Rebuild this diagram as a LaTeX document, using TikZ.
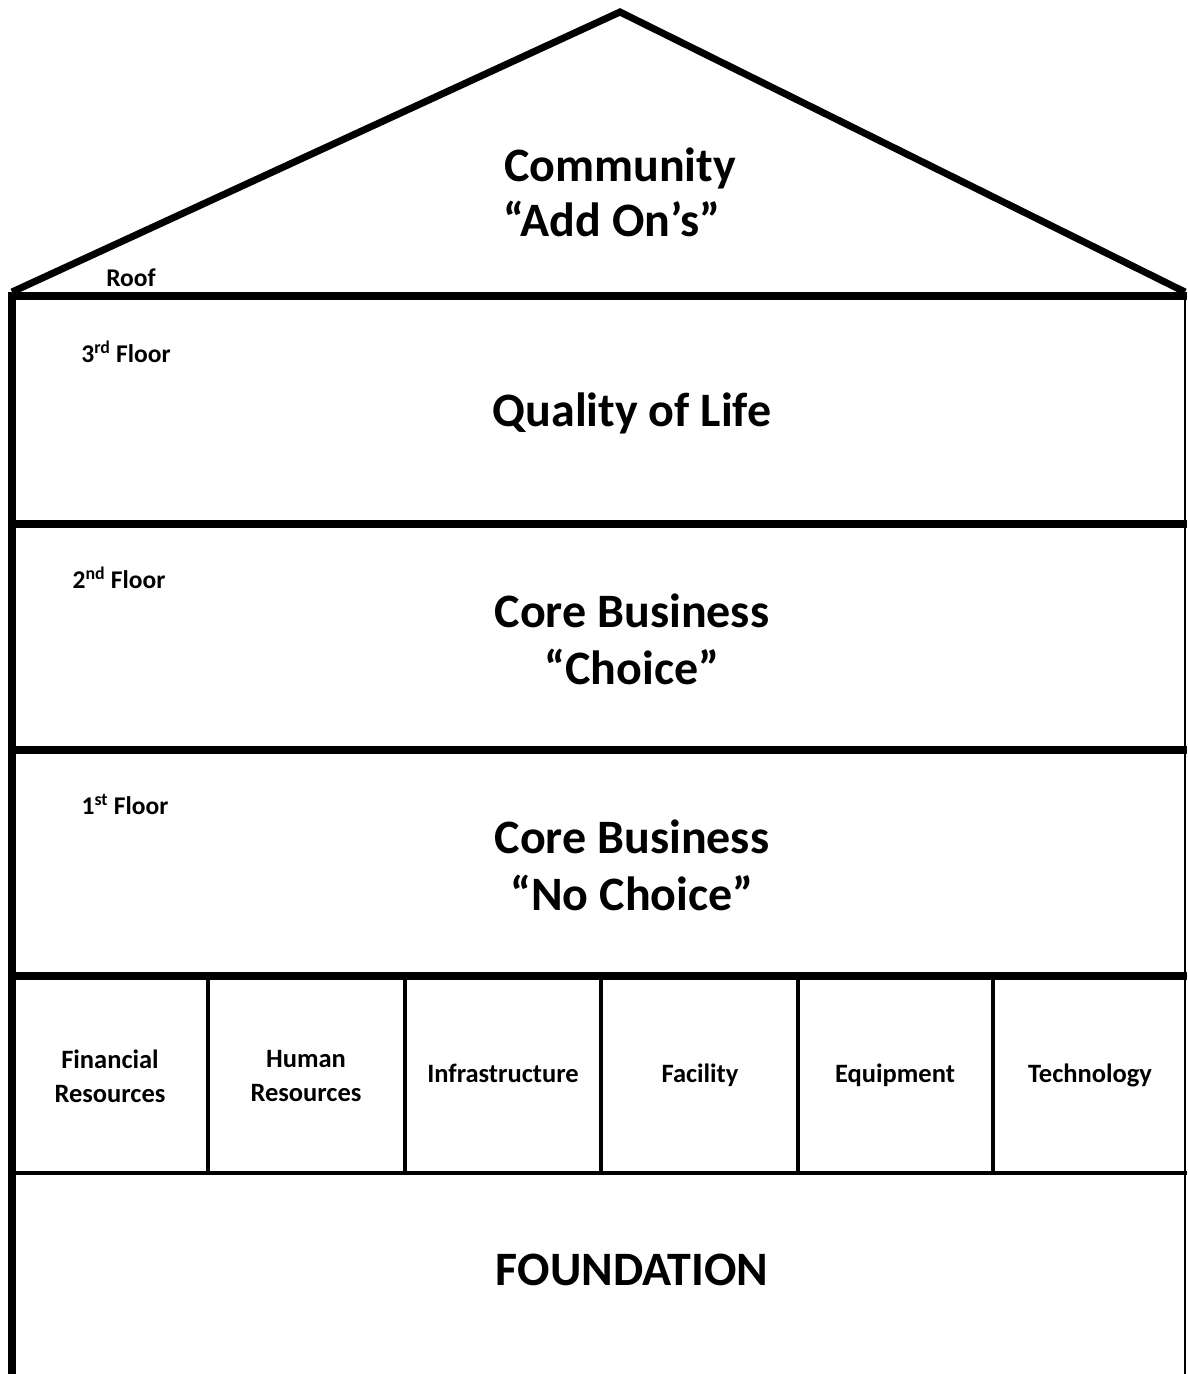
\documentclass[tikz,border=0pt]{standalone}
\usepackage{fontspec}
\setmainfont{Carlito}
\begin{document}
\begin{tikzpicture}[x=1pt,y=-1pt,
  big/.style={font=\fontsize{48}{57}\selectfont\bfseries, align=center, inner sep=0pt},
  small/.style={font=\fontsize{25.5}{30}\selectfont\bfseries, inner sep=0pt},
  col/.style={font=\fontsize{26.5}{34}\selectfont\bfseries, align=center, inner sep=0pt},
  colone/.style={font=\fontsize{26.5}{34}\selectfont\bfseries, inner sep=0pt, text height=18pt, text depth=6pt},
  thick line/.style={line width=8pt},
  roof line/.style={line width=7pt, line join=miter},
  thin line/.style={line width=4pt}]
\useasboundingbox (0,0) rectangle (1187,1374);
% roof
\draw[roof line] (12,292) -- (620,12) -- (1185,292);
% top of house
\draw[thick line] (8,296) -- (1187,296);
% left wall
\draw[thick line] (12,292) -- (12,1374);
% right wall
\draw[line width=2pt] (1185,292) -- (1185,1374);
% floors
\draw[thick line] (12,524) -- (1187,524);
\draw[thick line] (12,750) -- (1187,750);
\draw[thick line] (12,976) -- (1187,976);
\draw[thin line] (12,1173) -- (1187,1173);
% columns
\foreach \x in {208,405,601,798,993}
  \draw[thin line] (\x,976) -- (\x,1173);
% texts
\node[big, font=\fontsize{48}{55}\selectfont\bfseries] (community) at (620,192) {Community\\\hspace*{-16pt}“Add On’s”};
\node[big] (qol) at (632,413) {Quality of Life};
\node[big] (choice) at (632,639) {Core Business\\“Choice”};
\node[big] (nochoice) at (632,865) {Core Business\\“No Choice”};
\node[big] (found) at (632,1270) {FOUNDATION};
\node[small] (roof) at (131,278) {Roof};
\node[small] (f3) at (126,352) {3\textsuperscript{rd} Floor};
\node[small] (f2) at (119,578) {2\textsuperscript{nd} Floor};
\node[small] (f1) at (125,804) {1\textsuperscript{st} Floor};
\node[col] (c1) at (110,1076) {Financial\\Resources};
\node[col] (c2) at (306,1076) {Human\\Resources};
\node[colone] (c3) at (503,1076) {Infrastructure};
\node[colone] (c4) at (700,1076) {Facility};
\node[colone] (c5) at (895,1076) {Equipment};
\node[colone] (c6) at (1090,1076) {Technology};
\end{tikzpicture}
\end{document}
